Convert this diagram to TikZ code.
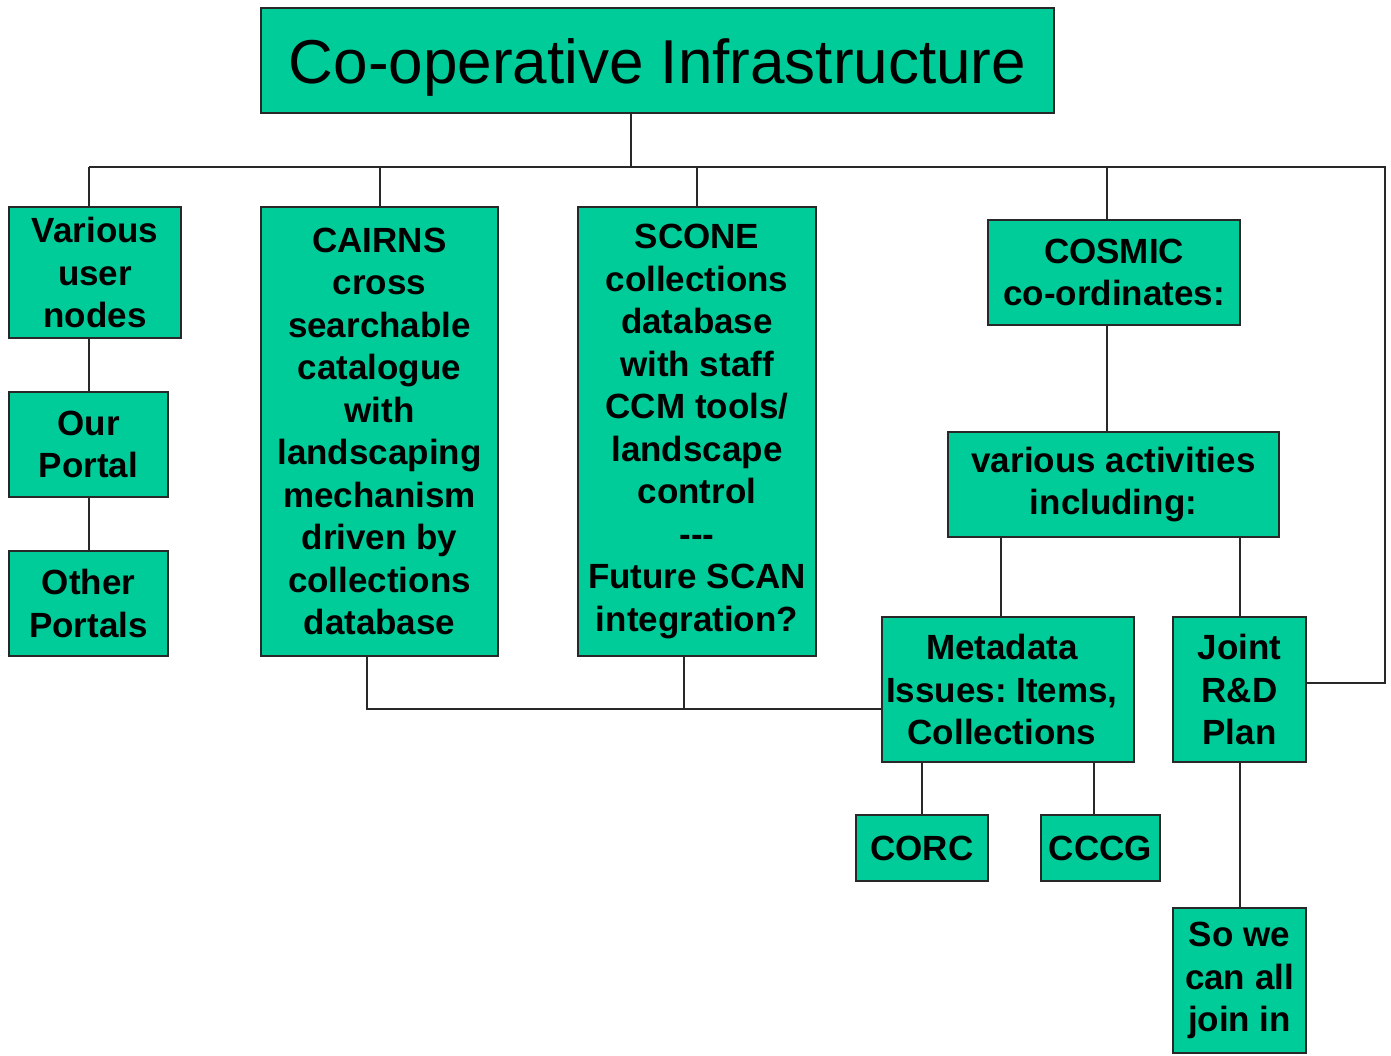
\documentclass[tikz,border=0pt]{standalone}
\usepackage{fontspec}
\setmainfont{Liberation Sans}
\definecolor{boxfill}{RGB}{0,204,153}
\definecolor{edge}{RGB}{40,40,40}
\frenchspacing
\begin{document}
\begin{tikzpicture}[x=1pt,y=-1pt,
  box/.style={draw=edge,line width=2pt,fill=boxfill,inner sep=0pt,align=center,
    font=\fontsize{35}{42.5}\selectfont\bfseries},
  boxtext/.style={inner sep=0pt,align=center,font=\fontsize{35}{42.5}\selectfont\bfseries},
  link/.style={draw=edge,line width=2pt}]
\useasboundingbox[fill=white] (0,0) rectangle (1391,1055);
\node[box,minimum width=793pt,minimum height=105pt,font=\fontsize{62}{70}\selectfont\mdseries] (title) at (657.5,60.5) {\raisebox{-7pt}[\height][\depth]{Co-operative Infrastructure}};
\node[box,minimum width=172pt,minimum height=131pt] (vun) at (95,272.5) {Various\\user\\nodes};
\node[box,minimum width=159pt,minimum height=105pt] (our) at (88.5,444.5) {Our\\Portal};
\node[box,minimum width=159pt,minimum height=105pt] (oth) at (88.5,603.5) {Other\\Portals};
\node[box,minimum width=237pt,minimum height=449pt] (cairns) at (379.5,431.5) {CAIRNS\\cross\\searchable\\catalogue\\with\\landscaping\\mechanism\\driven by\\collections\\database};
\node[box,minimum width=238pt,minimum height=449pt] (scone) at (697,431.5) {SCONE\\collections\\database\\with staff\\CCM tools/\\landscape\\control\\-{}-{}-\\Future SCAN\\integration?};
\node[box,minimum width=252pt,minimum height=105pt] (cosmic) at (1114,272.5) {COSMIC\\co-ordinates:};
\node[box,minimum width=331pt,minimum height=105pt] (act) at (1113.5,484.5) {various activities\\including:};
\node[box,minimum width=252pt,minimum height=145pt] (meta) at (1008,689.5) {};
\node[boxtext] (metat) at ([xshift=-6pt]meta.center) {Metadata\\Issues: Items,\\Collections};
\node[box,minimum width=133pt,minimum height=145pt] (joint) at (1239.5,689.5) {Joint\\R\&D\\Plan};
\node[box,minimum width=132pt,minimum height=66pt] (corc) at (922,848) {CORC};
\node[box,minimum width=119pt,minimum height=66pt] (cccg) at (1100.5,848) {CCCG};
\node[box,minimum width=133pt,minimum height=145pt] (sowe) at (1239.5,980.5) {So we\\can all\\join in};
% bus coordinates
\coordinate (busL) at (89,167);
\coordinate (busR) at (1385,167);
\coordinate (tb) at (631,167);
\coordinate (cb) at (1107,167);
\coordinate (jr) at (1385,683);
\coordinate (ma) at (1001,537);
\coordinate (mc) at (1094,762);
\coordinate (h) at (367,709);
\coordinate (hs) at (684,709);
% connectors
\path[link] (tb |- title.south) -- (tb);
\path[link] (busL) -- (busR) -- (jr) -- (jr -| joint.east);
\path[link] (busL) -- (busL |- vun.north);
\path[link] (busL |- vun.south) -- (busL |- our.north);
\path[link] (busL |- our.south) -- (busL |- oth.north);
\path[link] (cairns.north) -- (cairns.north |- busL);
\path[link] (scone.north) -- (scone.north |- busL);
\path[link] (cb) -- (cb |- cosmic.north);
\path[link] (cb |- cosmic.south) -- (cb |- act.north);
\path[link] (ma) -- (ma |- meta.north);
\path[link] (joint.north) -- (joint.north |- act.south);
\path[link] (corc.north) -- (corc.north |- meta.south);
\path[link] (mc) -- (mc |- cccg.north);
\path[link] (joint.south) -- (sowe.north);
\path[link] (h |- cairns.south) -- (h) -- (h -| meta.west);
\path[link] (hs |- scone.south) -- (hs);
\end{tikzpicture}
\end{document}
